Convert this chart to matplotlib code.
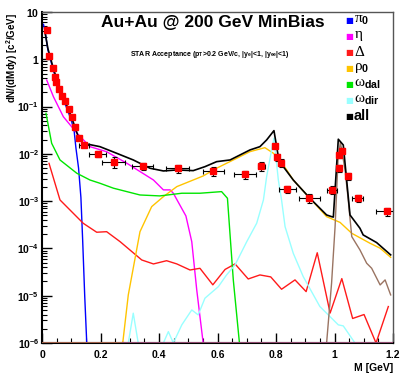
import numpy as np
import matplotlib
matplotlib.use("Agg")
import matplotlib.pyplot as plt
from matplotlib.ticker import FixedLocator, FuncFormatter, LogLocator, NullFormatter, MultipleLocator

plt.rcParams['font.family'] = ['Liberation Sans', 'DejaVu Sans']
plt.rcParams['mathtext.fontset'] = 'custom'
plt.rcParams['mathtext.rm'] = 'Liberation Serif'
plt.rcParams['mathtext.it'] = 'Liberation Serif'
plt.rcParams['mathtext.bf'] = 'Liberation Sans:bold'

# cocktail components, M [GeV] and dN/(dMdy)
pi0_m = [0.005, 0.01, 0.02, 0.04, 0.06, 0.08, 0.10, 0.11, 0.116, 0.125, 0.133, 0.139, 0.146, 0.153]
pi0_y = [5.5, 4.0, 1.6, 0.55, 0.23, 0.11, 0.052, 0.03, 0.0133, 0.005, 0.0012, 1.5e-4, 1e-5, 1e-6]

eta_m = [0.016, 0.039, 0.073, 0.119, 0.164, 0.221, 0.290, 0.381, 0.415, 0.438, 0.449, 0.492, 0.512, 0.529, 0.551]
eta_y = [0.365, 0.162, 0.061, 0.0277, 0.0142, 0.0111, 0.00633, 0.0028, 0.00173, 0.00173, 0.00147,
         4.86e-4, 1.39e-4, 1.33e-5, 1e-6]

delta_m = [0.024, 0.0615, 0.141, 0.187, 0.221, 0.267, 0.341, 0.381, 0.426, 0.461, 0.506, 0.540, 0.584,
           0.626, 0.660, 0.705, 0.745, 0.782, 0.819, 0.865, 0.903, 0.941, 0.985, 1.025, 1.062, 1.101,
           1.142, 1.184]
delta_y = [6.3e-3, 1.06e-3, 3.4e-4, 2.2e-4, 2.26e-4, 1.39e-4, 5.7e-5, 4.7e-5, 5.5e-5, 4.7e-5, 3.5e-5,
           3.8e-5, 1.7e-5, 3.6e-5, 4.7e-5, 2.26e-5, 2.75e-5, 2.5e-5, 1.37e-5, 2.16e-5, 1.22e-5, 8.1e-5,
           4.3e-6, 2.3e-5, 3.3e-6, 4.0e-6, 1.0e-6, 5.9e-6]

rho_m = [0.276, 0.295, 0.335, 0.375, 0.415, 0.461, 0.517, 0.551, 0.597, 0.654, 0.711, 0.762, 0.791,
         0.814, 0.859, 0.916, 0.973, 1.019, 1.059, 1.121, 1.156, 1.192]
rho_y = [1e-6, 1.04e-5, 2.26e-4, 7.66e-4, 1.245e-3, 2.03e-3, 2.8e-3, 3.41e-3, 4.97e-3, 7.43e-3, 0.01114,
         0.01352, 0.0103, 0.00743, 0.0028, 0.00115, 4.7e-4, 3.55e-4, 2.09e-4, 1.29e-4, 1.01e-4, 6.5e-5]

omdal_m = [0.0137, 0.033, 0.0615, 0.119, 0.164, 0.198, 0.244, 0.290, 0.335, 0.403, 0.478, 0.540, 0.614,
           0.634, 0.654, 0.675]
omdal_y = [0.0721, 0.01675, 0.00743, 0.00389, 0.0028, 0.00239, 0.00188, 0.00159, 0.00135, 0.00129,
           0.00147, 0.00147, 0.00159, 0.00115, 2.16e-5, 1e-6]

omdir_m = [0.295, 0.312, 0.329, 0.415, 0.432, 0.449, 0.478, 0.512, 0.534, 0.557, 0.603, 0.631, 0.660,
           0.700, 0.734, 0.757, 0.768, 0.785, 0.793, 0.808, 0.819, 0.831, 0.859, 0.893, 0.950, 1.013,
           1.030, 1.070]
omdir_y = [1e-6, 4.27e-6, 1e-6, 1e-6, 1.74e-6, 1e-6, 2.42e-6, 5.0e-6, 3.93e-6, 8.85e-6, 1.556e-5,
           2.75e-5, 4.48e-5, 1.39e-4, 3.41e-4, 1.06e-3, 3.3e-3, 0.0121, 0.0214, 0.0028, 0.00106,
           2.89e-4, 7.9e-5, 2.54e-5, 5.9e-6, 2.42e-6, 2.3e-6, 1e-6]

phi_m = [0.0, 0.973, 0.990, 1.002, 1.012, 1.02, 1.036, 1.047, 1.059, 1.087, 1.110, 1.127, 1.156, 1.173, 1.192]
phi_y = [1e-6, 1e-6, 1.84e-5, 2.89e-4, 7.4e-3, 0.0178, 4.6e-3, 1.06e-3, 1.78e-4, 9.3e-5, 4.86e-5,
         3.81e-5, 1.69e-5, 2.16e-5, 1.04e-5]

all_m = [0.010, 0.02, 0.04, 0.06, 0.08, 0.10, 0.124, 0.141, 0.198, 0.255, 0.312, 0.369, 0.415, 0.461,
         0.517, 0.557, 0.597, 0.643, 0.677, 0.711, 0.745, 0.768, 0.793, 0.808, 0.825, 0.859, 0.916,
         0.973, 0.990, 0.996, 1.013, 1.030, 1.053, 1.087, 1.098, 1.144, 1.192]
all_y = [3.84, 1.7, 0.6, 0.26, 0.125, 0.062, 0.0231, 0.01675, 0.0142, 0.0103, 0.00743, 0.00497,
         0.00435, 0.00457, 0.00442, 0.00536, 0.00684, 0.00743, 0.00948, 0.0121, 0.0142, 0.0197, 0.031,
         0.00873, 0.00537, 0.0028, 0.00115, 5.1e-4, 4.7e-4, 4.6e-4, 0.0204, 0.0154, 5.1e-4, 2.67e-4,
         1.93e-4, 1.33e-4, 7.3e-5]

# STAR data points
data_m = [0.016, 0.025, 0.036, 0.045, 0.048, 0.058, 0.069, 0.080, 0.091, 0.102, 0.114, 0.125, 0.145,
          0.190, 0.245, 0.344, 0.464, 0.586, 0.695, 0.750, 0.795, 0.804, 0.817, 0.839, 0.914, 0.991,
          1.014, 1.014, 1.026, 1.046, 1.079, 1.178]
data_y = [4.16, 1.19, 0.645, 0.428, 0.327, 0.232, 0.170, 0.131, 0.0877, 0.0594, 0.0376, 0.0214, 0.0152,
          0.0101, 0.00684, 0.00554, 0.00496, 0.00429, 0.00370, 0.00554, 0.0147, 0.00847, 0.00652,
          0.00181, 0.00117, 0.00173, 0.00496, 0.00949, 0.0117, 0.00336, 0.00117, 0.000605]
data_xerr = [0.004, 0.004, 0.004, 0.004, 0.004, 0.004, 0.004, 0.004, 0.004, 0.004, 0.004, 0.004, 0.017,
             0.03, 0.04, 0.036, 0.04, 0.037, 0.037, 0.011, 0.004, 0.004, 0.008, 0.028, 0.037, 0.018,
             0.004, 0.004, 0.004, 0.006, 0.018, 0.035]
data_rel = [0.05] * 13 + [0.15, 0.25, 0.18, 0.2, 0.2, 0.2, 0.2, 0.1, 0.15, 0.18, 0.18, 0.2, 0.18,
                          0.15, 0.12, 0.12, 0.18, 0.18, 0.2]

labels = [r'$\pi_{\mathbf{0}}$', r'$\eta$', r'$\Delta$', r'$\rho_{\mathbf{0}}$',
          r'$\omega_{\mathbf{dal}}$', r'$\omega_{\mathbf{dir}}$', 'all']
colors = ['#0000ff', '#ff00ff', '#ff1a1a', '#ffc400', '#00e600', '#99ffff', '#000000']

fig = plt.figure(figsize=(4.01, 3.74), dpi=100)
ax = fig.add_axes([42 / 401, 31 / 374, 351 / 401, 331 / 374])

ax.plot(pi0_m, pi0_y, color=colors[0], lw=1.0)
ax.plot(eta_m, eta_y, color=colors[1], lw=1.0)
ax.plot(delta_m, delta_y, color=colors[2], lw=1.0)
ax.plot(rho_m, rho_y, color=colors[3], lw=1.0)
ax.plot(omdal_m, omdal_y, color=colors[4], lw=1.0)
ax.plot(omdir_m, omdir_y, color=colors[5], lw=1.0)
ax.plot(phi_m, phi_y, color='#9a7462', lw=1.0)
ax.axhline(1e-6, xmax=0.23, color='#a0604a', lw=2.2, zorder=3)
ax.axhline(1e-6, xmin=0.23, color='#8e4a6e', lw=2.2, zorder=3)
ax.plot(all_m, all_y, color=colors[6], lw=1.2)

dy = np.array(data_y) * np.array(data_rel)
ax.errorbar(data_m, data_y, xerr=data_xerr, yerr=dy, fmt='none', ecolor='black',
            elinewidth=0.8, capsize=1.8, capthick=0.8, zorder=4)
ax.plot(data_m, data_y, 's', color='#ff0000', ms=4.3, mec='#ff0000', zorder=5)

ax.set_yscale('log')
ax.set_xlim(0, 1.2)
ax.set_ylim(1e-6, 10)

def ylab(v, pos):
    n = int(round(np.log10(v)))
    if n == 1:
        return r'$\mathbf{10}$'
    if n == 0:
        return r'$\mathbf{1}$'
    return r'$\mathbf{10^{%d}}$' % n

ax.yaxis.set_major_locator(FixedLocator([10.0 ** k for k in range(-6, 2)]))
ax.yaxis.set_major_formatter(FuncFormatter(ylab))
ax.yaxis.set_minor_locator(LogLocator(base=10, subs=np.arange(2, 10), numticks=20))
ax.yaxis.set_minor_formatter(NullFormatter())
ax.xaxis.set_major_locator(MultipleLocator(0.2))
ax.xaxis.set_minor_locator(MultipleLocator(0.05))
ax.xaxis.set_major_formatter(FuncFormatter(lambda v, p: '%g' % round(v, 2)))

ax.tick_params(which='both', direction='in', top=False, right=False)
ax.tick_params(which='major', length=7, width=1.0, labelsize=7.5, pad=2)
ax.tick_params(which='minor', length=3.5, width=0.8)
for lab in ax.get_xticklabels():
    lab.set_fontweight('bold')
ax.tick_params(axis='x', pad=5)
for s in ['left', 'bottom']:
    ax.spines[s].set_linewidth(1.5)
for s in ['top', 'right']:
    ax.spines[s].set_linewidth(1.0)
    ax.spines[s].set_color('#555555')

fig.text(12 / 401, 1 - 13 / 374, r'dN/(dMdy) [c$^{\mathbf{2}}$/GeV]', rotation=90, ha='center', va='top',
         fontsize=7, fontweight='bold')
fig.text(393 / 401, 1 - 368 / 374, 'M [GeV]', ha='right', va='center', fontsize=7.5, fontweight='bold')
fig.text(213 / 401, 1 - 23 / 374, 'Au+Au @ 200 GeV MinBias', ha='center', va='center',
         fontsize=12.5, fontweight='bold')
fig.text(210 / 401, 1 - 54 / 374,
         r'STAR Acceptance (p$_{\mathbf{T}}$>0.2 GeV/c, |y$_{\mathbf{e}}$|<1, |y$_{\mathbf{ee}}$|<1)',
         ha='center', va='center', fontsize=5, fontweight='bold')

# legend
for i, (lab, c) in enumerate(zip(labels, colors)):
    ypx = 20 + 16 * i
    fig.text(349 / 401, 1 - ypx / 374, u'\u25a0', color=c, ha='center', va='center', fontsize=6,
             family='DejaVu Sans')
    if lab == 'all':
        fig.text(354 / 401, 1 - ypx / 374, lab, ha='left', va='center', fontsize=10.5, fontweight='bold')
    else:
        fig.text(354 / 401, 1 - ypx / 374, lab, ha='left', va='center', fontsize=11)

fig.savefig('out.png', dpi=100)
